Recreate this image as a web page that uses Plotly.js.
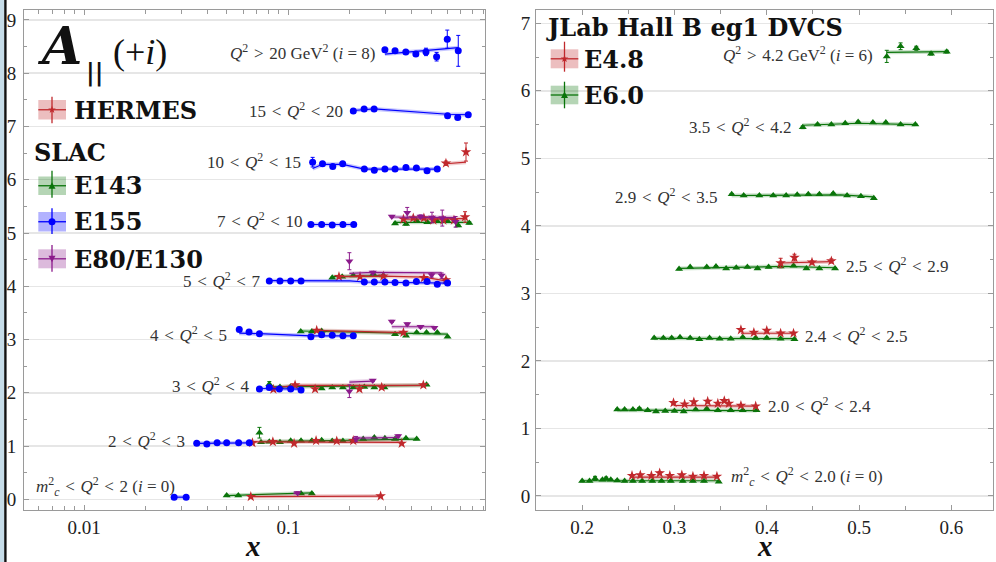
<!DOCTYPE html>
<html><head><meta charset="utf-8">
<script src="https://cdn.plot.ly/plotly-3.0.1.min.js"></script>
<style>html,body{margin:0;padding:0;background:#fff;overflow:hidden}</style>
</head><body><div id="plot" style="width:996px;height:562px"></div>
<script>
// ---------------- LEFT PANEL DATA (A_parallel + i, x) ----------------
// E155 (blue circles), bins i = 0..8
const E155_x = [
 [0.0276,0.0316],
 [0.0356,0.0399,0.0448,0.0499,0.0571,0.0644],
 [0.0722,0.0807,0.0904,0.1027,0.1154],
 [0.0575,0.0642,0.0722,0.129,0.1456,0.164,0.185,0.208],
 [0.0807,0.091,0.1027,0.1154,0.2355,0.2636,0.297,0.333,0.3766,0.4236,0.4776,0.536,0.602],
 [0.129,0.1456,0.164,0.185,0.209],
 [0.1315,0.147,0.165,0.1845,0.2355,0.2636,0.297,0.333,0.3766,0.4236,0.4776,0.536],
 [0.208,0.235,0.263,0.602,0.675,0.760],
 [0.297,0.333,0.376,0.421,0.472,0.532,0.600,0.679]
];
const E155_y = [
 [0.04,0.04],
 [1.05,1.04,1.06,1.06,1.06,1.06],
 [2.07,2.10,2.07,2.07,2.05],
 [3.19,3.14,3.11,3.05,3.09,3.08,3.07,3.07],
 [4.10,4.10,4.10,4.10,4.08,4.08,4.08,4.07,4.06,4.09,4.09,4.04,4.06],
 [5.16,5.16,5.15,5.16,5.16],
 [6.33,6.30,6.25,6.30,6.20,6.18,6.20,6.20,6.23,6.22,6.17,6.20],
 [7.29,7.33,7.33,7.20,7.17,7.22],
 [8.44,8.42,8.40,8.36,8.40,8.31,8.64,8.42]
];
const E155_err = [
 [0.01,0.01],
 [0.01,0.01,0.01,0.01,0.01,0.01],
 [0.01,0.01,0.01,0.01,0.01],
 [0.04,0.01,0.01,0.01,0.01,0.01,0.01,0.01],
 [0.01,0.01,0.01,0.01,0.01,0.01,0.01,0.01,0.01,0.01,0.01,0.01,0.01],
 [0.01,0.01,0.01,0.01,0.01],
 [0.09,0.02,0.02,0.02,0.02,0.02,0.02,0.02,0.02,0.02,0.02,0.02],
 [0.02,0.02,0.02,0.02,0.02,0.02],
 [0.03,0.03,0.03,0.03,0.07,0.08,0.17,0.29]
];
const E155_fitx = [[0.0276,0.0316],[0.0356,0.0644],[0.0722,0.1154],[0.0575,0.0722,0.129,0.208],[0.0807,0.2,0.2355,0.602],[0.129,0.209],[0.1315,0.147,0.1845,0.2355,0.536],[0.208,0.263,0.602,0.76],[0.297,0.679]];
const E155_fity = [[0.04,0.04],[1.05,1.06],[2.08,2.07],[3.12,3.11,3.07,3.07],[4.105,4.10,4.08,4.06],[5.16,5.16],[6.21,6.29,6.29,6.20,6.20],[7.30,7.33,7.23,7.22],[8.36,8.48]];

// E143 (green triangles), bins i = 0..5
const E143_x = [
 [0.0499,0.0569,0.1154,0.1304],
 [0.0722,0.0735,0.0807,0.091,0.1027,0.1154,0.1304,0.1456,0.164,0.185,0.208,0.2326,0.2636,0.297,0.333,0.3766,0.425],
 [0.0807,0.091,0.1022,0.1456,0.164,0.185,0.208,0.2355,0.2636,0.2955,0.475],
 [0.115,0.1304,0.1456,0.333,0.377,0.425,0.475,0.536,0.602],
 [0.164,0.1835,0.208,0.2606,0.2918],
 [0.333,0.377,0.425,0.479,0.536,0.602,0.679,0.769]
];
const E143_y = [
 [0.07,0.07,0.11,0.11],
 [1.25,1.07,1.08,1.07,1.10,1.10,1.10,1.11,1.095,1.095,1.10,1.13,1.16,1.145,1.13,1.145,1.13],
 [2.16,2.11,2.11,2.08,2.10,2.10,2.10,2.11,2.10,2.10,2.15],
 [3.15,3.15,3.16,3.10,3.07,3.13,3.13,3.13,3.05],
 [4.16,4.18,4.20,4.23,4.20],
 [5.18,5.17,5.23,5.20,5.22,5.22,5.14,5.19]
];
const E143_err = [
 [0.01,0.01,0.01,0.01],
 [0.10,0.01,0.01,0.01,0.01,0.01,0.01,0.01,0.01,0.01,0.01,0.01,0.01,0.01,0.01,0.01,0.01],
 [0.05,0.01,0.01,0.01,0.01,0.01,0.01,0.01,0.01,0.01,0.01],
 [0.01,0.01,0.01,0.01,0.01,0.01,0.01,0.01,0.01],
 [0.01,0.01,0.01,0.01,0.01],
 [0.02,0.02,0.02,0.02,0.02,0.02,0.02,0.02]
];
const E143_fitx = [[0.0499,0.1304],[0.0722,0.425],[0.0807,0.475],[0.115,0.602],[0.164,0.2918],[0.333,0.769]];
const E143_fity = [[0.07,0.12],[1.08,1.13],[2.11,2.14],[3.16,3.10],[4.18,4.20],[5.20,5.20]];

// HERMES (red stars), bins i = 0..6
const HERMES_x = [
 [0.0655,0.283],
 [0.0667,0.084,0.1067,0.1367,0.1726,0.208,0.359],
 [0.0845,0.1079,0.1352,0.2229,0.2865,0.458],
 [0.1377,0.366],
 [0.177,0.2244,0.2918,0.461,0.591],
 [0.366,0.409,0.461,0.513,0.574,0.647,0.733],
 [0.591,0.741]
];
const HERMES_y = [
 [0.05,0.06],
 [1.06,1.08,1.05,1.10,1.095,1.10,1.05],
 [2.065,2.146,2.071,2.071,2.103,2.146],
 [3.17,3.13],
 [4.18,4.18,4.19,4.16,4.12],
 [5.26,5.28,5.28,5.24,5.24,5.24,5.30],
 [6.31,6.52]
];
const HERMES_err = [
 [0.01,0.01],
 [0.01,0.01,0.01,0.01,0.01,0.01,0.01],
 [0.01,0.01,0.01,0.01,0.01,0.02],
 [0.01,0.01],
 [0.01,0.01,0.01,0.02,0.03],
 [0.02,0.02,0.02,0.02,0.02,0.02,0.10],
 [0.04,0.17]
];
const HERMES_fitx = [[0.0655,0.283],[0.0667,0.359],[0.0845,0.1079,0.458],[0.1377,0.366],[0.177,0.2918,0.461,0.591],[0.366,0.733],[0.591,0.741]];
const HERMES_fity = [[0.05,0.06],[1.08,1.07],[2.09,2.14,2.14],[3.17,3.13],[4.18,4.19,4.17,4.10],[5.26,5.27],[6.30,6.33]];

// E80/E130 (purple down-triangles), bins i = 0..5
const E80_x = [[0.111],[0.2144,0.345],[0.199,0.259],[0.321,0.382,0.444,0.519],[0.199,0.259,0.503,0.563],[0.321,0.382,0.444,0.505,0.567,0.659]];
const E80_y = [[0.12],[1.13,1.19],[2.03,2.23],[3.34,3.29,3.24,3.22],[4.47,4.26,4.21,4.20],[5.31,5.38,5.31,5.29,5.28,5.21]];
const E80_err = [[0.02],[0.05,0.02],[0.12,0.02],[0.02,0.02,0.02,0.02],[0.16,0.02,0.04,0.05],[0.02,0.10,0.03,0.10,0.15,0.10]];
const E80_fitx = [[0.106,0.113],[0.2144,0.345],[0.199,0.259],[0.321,0.519],[0.199,0.259,0.563],[0.321,0.659]];
const E80_fity = [[0.11,0.12],[1.15,1.16],[2.20,2.22],[3.24,3.24],[4.24,4.26,4.25],[5.30,5.29]];

// ---------------- RIGHT PANEL DATA (JLab eg1 DVCS) ----------------
const E60_x = [
 [0.200,0.208,0.214,0.222,0.226,0.231,0.238,0.246,0.255,0.265,0.276,0.286,0.296,0.309,0.320,0.332,0.348],
 [0.238,0.246,0.255,0.262,0.271,0.280,0.290,0.300,0.310,0.323,0.335,0.347,0.361,0.374,0.389],
 [0.278,0.288,0.297,0.306,0.317,0.327,0.338,0.349,0.361,0.374,0.388,0.400,0.415,0.430],
 [0.305,0.317,0.335,0.345,0.356,0.367,0.379,0.390,0.402,0.415,0.429,0.443,0.457,0.474],
 [0.362,0.375,0.392,0.407,0.421,0.433,0.445,0.457,0.472,0.487,0.502,0.516],
 [0.439,0.455,0.470,0.485,0.499,0.515,0.529,0.545,0.561],
 [0.530,0.545,0.562,0.578,0.595]
];
const E60_y = [
 [0.22,0.22,0.26,0.24,0.26,0.24,0.23,0.22,0.22,0.22,0.22,0.22,0.22,0.22,0.22,0.22,0.21],
 [1.28,1.28,1.28,1.29,1.27,1.25,1.26,1.26,1.25,1.28,1.29,1.27,1.27,1.27,1.27],
 [2.34,2.34,2.34,2.35,2.34,2.32,2.34,2.33,2.33,2.35,2.34,2.34,2.33,2.32],
 [3.36,3.39,3.39,3.40,3.37,3.38,3.39,3.37,3.39,3.40,3.41,3.37,3.37,3.37],
 [4.47,4.45,4.45,4.45,4.45,4.46,4.47,4.47,4.48,4.45,4.44,4.41],
 [5.46,5.50,5.50,5.52,5.54,5.53,5.53,5.50,5.50],
 [6.51,6.66,6.63,6.55,6.58]
];
const E60_err = [
 [0.01,0.01,0.03,0.01,0.02,0.01,0.01,0.01,0.01,0.01,0.01,0.01,0.01,0.01,0.01,0.01,0.01],
 [0.01,0.01,0.01,0.02,0.01,0.01,0.01,0.01,0.01,0.01,0.01,0.01,0.01,0.01,0.01],
 [0.01,0.01,0.01,0.01,0.01,0.01,0.01,0.01,0.01,0.01,0.01,0.01,0.01,0.01],
 [0.01,0.01,0.01,0.01,0.01,0.01,0.01,0.01,0.01,0.01,0.01,0.01,0.01,0.01],
 [0.01,0.01,0.01,0.01,0.01,0.01,0.01,0.01,0.01,0.01,0.01,0.01],
 [0.02,0.01,0.01,0.01,0.01,0.01,0.01,0.01,0.01],
 [0.09,0.05,0.03,0.02,0.02]
];
const E60_fitx = [[0.200,0.348],[0.238,0.389],[0.278,0.430],[0.305,0.420,0.474],[0.362,0.480,0.516],[0.439,0.500,0.561],[0.530,0.595]];
const E60_fity = [[0.225,0.225],[1.27,1.265],[2.335,2.33],[3.37,3.40,3.38],[4.45,4.46,4.43],[5.49,5.52,5.50],[6.57,6.58]];

const E48_x = [
 [0.254,0.263,0.275,0.284,0.295,0.308,0.320,0.332,0.346],
 [0.299,0.311,0.321,0.336,0.347,0.354,0.359,0.372,0.388],
 [0.372,0.386,0.400,0.415,0.429],
 [0.415,0.430,0.449,0.470]
];
const E48_y = [
 [0.30,0.31,0.30,0.34,0.30,0.31,0.29,0.30,0.29],
 [1.38,1.36,1.39,1.40,1.37,1.41,1.37,1.34,1.33],
 [2.46,2.42,2.45,2.41,2.41],
 [3.45,3.53,3.46,3.48]
];
const E48_err = [
 [0.01,0.01,0.01,0.02,0.01,0.01,0.01,0.01,0.01],
 [0.01,0.01,0.01,0.02,0.01,0.01,0.01,0.01,0.01],
 [0.01,0.01,0.01,0.01,0.01],
 [0.07,0.05,0.02,0.03]
];
const E48_fitx = [[0.254,0.346],[0.299,0.388],[0.372,0.429],[0.415,0.470]];
const E48_fity = [[0.28,0.28],[1.34,1.33],[2.41,2.41],[3.45,3.47]];

// Bin labels
const SP = "\u2004";
const LT = SP + "<" + SP, GT = SP + ">" + SP;
const Q2 = "<i>Q</i><sup>2</sup>";
const MC2 = "<i>m</i><sup>2</sup><sub><i>c</i></sub>";
const leftLabels = [
 MC2 + LT + Q2 + LT + "2 (<i>i</i> = 0)",
 "2" + LT + Q2 + LT + "3",
 "3" + LT + Q2 + LT + "4",
 "4" + LT + Q2 + LT + "5",
 "5" + LT + Q2 + LT + "7",
 "7" + LT + Q2 + LT + "10",
 "10" + LT + Q2 + LT + "15",
 "15" + LT + Q2 + LT + "20",
 Q2 + GT + "20 GeV<sup>2</sup> (<i>i</i> = 8)"
];
const rightLabels = [
 MC2 + LT + Q2 + LT + "2.0 (<i>i</i> = 0)",
 "2.0" + LT + Q2 + LT + "2.4",
 "2.4" + LT + Q2 + LT + "2.5",
 "2.5" + LT + Q2 + LT + "2.9",
 "2.9" + LT + Q2 + LT + "3.5",
 "3.5" + LT + Q2 + LT + "4.2",
 Q2 + GT + "4.2 GeV<sup>2</sup> (<i>i</i> = 6)"
];
const xTickLeft = [0.01, 0.1];
const xTickLeftText = ["0.01", "0.1"];

// ---------------- BUILD ----------------
const W = 996, H = 562;
const PX = v => v / W, PY = v => 1 - v / H;
const RED = "#c0282c", GREEN = "#0a740a", BLUE = "#0000ff", PURPLE = "#8b1a8b";
const SERIF = "Liberation Serif";
const BOLDF = "DejaVu Serif";

function series(xb, yb, eb, fxb, fyb, color, symbol, size, xa, ya) {
  const X = [], Y = [], E = [];
  xb.forEach((b, i) => b.forEach((v, j) => { X.push(v); Y.push(yb[i][j]); E.push(eb[i][j]); }));
  const FX = [], FY = [];
  fxb.forEach((b, i) => { b.forEach((v, j) => { FX.push(v); FY.push(fyb[i][j]); }); FX.push(null); FY.push(null); });
  return [
    {type:"scatter", mode:"lines", x:FX, y:FY, xaxis:xa, yaxis:ya, line:{color:color, width:4}, opacity:0.22, hoverinfo:"skip"},
    {type:"scatter", mode:"lines", x:FX, y:FY, xaxis:xa, yaxis:ya, line:{color:color, width:1.2}, hoverinfo:"skip"},
    {type:"scatter", mode:"markers", x:X, y:Y, xaxis:xa, yaxis:ya,
     marker:{color:color, symbol:symbol, size:size, line:{width:0}},
     error_y:{type:"data", array:E, visible:true, color:color, thickness:1, width:2}}
  ];
}

const traces = [].concat(
  series(E143_x, E143_y, E143_err, E143_fitx, E143_fity, GREEN, "triangle-up", 7, "x", "y"),
  series(HERMES_x, HERMES_y, HERMES_err, HERMES_fitx, HERMES_fity, RED, "star", 8, "x", "y"),
  series(E80_x, E80_y, E80_err, E80_fitx, E80_fity, PURPLE, "triangle-down", 7, "x", "y"),
  series(E155_x, E155_y, E155_err, E155_fitx, E155_fity, BLUE, "circle", 7, "x", "y"),
  series(E60_x, E60_y, E60_err, E60_fitx, E60_fity, GREEN, "triangle-up", 7, "x2", "y2"),
  series(E48_x, E48_y, E48_err, E48_fitx, E48_fity, RED, "star", 8, "x2", "y2")
);

const minorLog = [];
[0.001, 0.01, 0.1].forEach(d => { for (let k = 2; k <= 9; k++) minorLog.push(k * d); });

const axCommon = {
  showline:true, linecolor:"#9a9a9a", linewidth:1, mirror:"ticks",
  ticks:"inside", tickcolor:"#9a9a9a", tickwidth:1, ticklen:5,
  tickfont:{family:SERIF, size:19, color:"#222"}, zeroline:false
};

const layout = {
  width:W, height:H, margin:{l:0, r:0, t:0, b:0},
  paper_bgcolor:"#fff", plot_bgcolor:"#fff", showlegend:false,
  xaxis: Object.assign({}, axCommon, {
    type:"log", domain:[PX(24), PX(485)], range:[Math.log10(0.00508), Math.log10(0.918)],
    tickmode:"array", tickvals:xTickLeft, ticktext:xTickLeftText, showgrid:false,
    minor:{tickmode:"array", tickvals:minorLog, ticks:"inside", ticklen:4, tickcolor:"#9a9a9a", showgrid:false},
    anchor:"y"
  }),
  yaxis: Object.assign({}, axCommon, {
    domain:[PY(510), PY(10)], range:[-0.201, 9.187], dtick:1, tick0:0,
    showgrid:true, gridcolor:"#e6e6e6", gridwidth:1.5, ticklabelstandoff:3,
    minor:{dtick:0.5, ticks:"inside", ticklen:3, tickcolor:"#9a9a9a", showgrid:false},
    anchor:"x"
  }),
  xaxis2: Object.assign({}, axCommon, {
    domain:[PX(536), PX(993)], range:[0.15, 0.6451], dtick:0.1, tick0:0.2, showgrid:false,
    minor:{dtick:0.05, ticks:"inside", ticklen:4, tickcolor:"#9a9a9a", showgrid:false},
    anchor:"y2"
  }),
  yaxis2: Object.assign({}, axCommon, {
    domain:[PY(510), PY(10)], range:[-0.208, 7.197], dtick:1, tick0:0,
    showgrid:true, gridcolor:"#e6e6e6", gridwidth:1.5, ticklabelstandoff:1,
    minor:{dtick:0.5, ticks:"inside", ticklen:3, tickcolor:"#9a9a9a", showgrid:false},
    anchor:"x2"
  }),
  annotations:[], shapes:[]
};

function txt(text, x, y, size, anchor, opts) {
  layout.annotations.push(Object.assign({
    text:text, xref:"paper", yref:"paper", x:PX(x), y:PY(y), xanchor:anchor, yanchor:"middle",
    showarrow:false, font:{family:SERIF, size:size, color:"#111"}
  }, opts || {}));
}

// bin labels
const LBL = {font:{family:SERIF, size:17, color:"#333"}};
const lPos = [[177,486,"right"],[187,440,"right"],[252,385,"right"],[229,334,"right"],[263,280,"right"],[305,220,"right"],[303,161,"right"],[345,110,"right"],[377,52,"right"]];
leftLabels.forEach((t,i) => txt(t, lPos[i][0], lPos[i][1], 17, lPos[i][2], LBL));
const rPos = [[729,476,"left"],[766,405,"left"],[803,335,"left"],[844,265,"left"],[720,196,"right"],[794,126,"right"],[875,54,"right"]];
rightLabels.forEach((t,i) => txt(t, rPos[i][0], rPos[i][1], 17, rPos[i][2], LBL));

// axis titles
txt("<b><i>x</i></b>", 253, 546, 29, "center");
txt("<b><i>x</i></b>", 765, 546, 29, "center");

// panel heading
txt("<b><i>A</i></b>", 59, 45, 52, "center", {font:{family:BOLDF, size:52, color:"#111"}});
txt("<b>||</b>", 94, 73, 24, "center", {font:{family:BOLDF, size:24, color:"#111"}});
txt("(+<i>i</i>)", 140, 52, 36, "center");

// legend entries
function legendGlyph(cx, y0, y1, e0, e1, x0, x1, color, symbol) {
  layout.shapes.push({type:"rect", xref:"paper", yref:"paper", x0:PX(x0), x1:PX(x1), y0:PY(y1), y1:PY(y0), fillcolor:color, opacity:0.3, line:{width:0}});
  const cy = (y0 + y1) / 2;
  layout.shapes.push({type:"line", xref:"paper", yref:"paper", x0:PX(x0), x1:PX(x1), y0:PY(cy), y1:PY(cy), line:{color:color, width:1.3}});
  layout.shapes.push({type:"line", xref:"paper", yref:"paper", x0:PX(cx), x1:PX(cx), y0:PY(e1), y1:PY(e0), line:{color:color, width:1.3}});
  let path;
  if (symbol === "circle") {
    layout.shapes.push({type:"circle", xref:"paper", yref:"paper", xsizemode:"pixel", ysizemode:"pixel",
      xanchor:PX(cx), yanchor:PY(cy), x0:-3.5, x1:3.5, y0:-3.5, y1:3.5, fillcolor:color, line:{width:0}});
    return;
  }
  if (symbol === "up") path = "M-3.5,-3L3.5,-3L0,3.5Z";
  else if (symbol === "down") path = "M-3.5,3L3.5,3L0,-3.5Z";
  else {
    let p = "";
    for (let k = 0; k < 10; k++) {
      const r = k % 2 ? 1.6 : 4, a = Math.PI / 2 + k * Math.PI / 5;
      p += (k ? "L" : "M") + (r * Math.cos(a)).toFixed(2) + "," + (r * Math.sin(a)).toFixed(2);
    }
    path = p + "Z";
  }
  layout.shapes.push({type:"path", xref:"paper", yref:"paper", xsizemode:"pixel", ysizemode:"pixel",
    xanchor:PX(cx), yanchor:PY(cy), path:path, fillcolor:color, line:{width:0}});
}
const LEG = {font:{family:BOLDF, size:24, color:"#111"}};
legendGlyph(52, 100, 119.5, 96.7, 123.3, 38.3, 66, RED, "star");
txt("<b>HERMES</b>", 72, 110, 24, "left", LEG);
txt("<b>SLAC</b>", 32, 152, 24, "left", LEG);
legendGlyph(52, 176.5, 195, 170.7, 197.7, 38.3, 66, GREEN, "up");
txt("<b>E143</b>", 72, 185, 24, "left", LEG);
legendGlyph(52, 212, 231.5, 208.3, 234, 38.3, 66, BLUE, "circle");
txt("<b>E155</b>", 72, 222, 24, "left", LEG);
legendGlyph(52, 249.3, 268.3, 245, 271.7, 38.3, 66, PURPLE, "down");
txt("<b>E80/E130</b>", 72, 259, 24, "left", LEG);

txt("<b>JLab Hall B eg1 DVCS</b>", 544, 27, 24, "left", LEG);
legendGlyph(564.5, 49.3, 68.3, 41.7, 71.7, 550.7, 578.3, RED, "star");
txt("<b>E4.8</b>", 582, 59, 24, "left", LEG);
legendGlyph(564.5, 85.7, 104.3, 81.7, 108.3, 550.7, 578.3, GREEN, "up");
txt("<b>E6.0</b>", 582, 95, 24, "left", LEG);

// left window-edge strip
layout.shapes.push({type:"rect", xref:"paper", yref:"paper", x0:0, x1:PX(4.2), y0:0, y1:1, fillcolor:"#c6dce8", line:{width:0}, layer:"above"});
layout.shapes.push({type:"rect", xref:"paper", yref:"paper", x0:PX(4.2), x1:PX(6.6), y0:0, y1:1, fillcolor:"#111", line:{width:0}, layer:"above"});

Plotly.newPlot("plot", traces, layout, {displayModeBar:false, staticPlot:true});
</script></body></html>
